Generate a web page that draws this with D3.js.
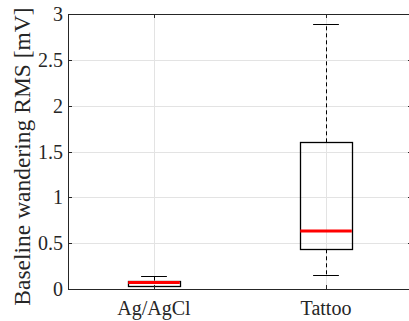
<!DOCTYPE html>
<html>
<head>
<meta charset="utf-8">
<script src="https://cdn.jsdelivr.net/npm/d3@7"></script>
<style>
  body { margin: 0; background: #fff; }
  svg { display: block; }
  text { font-family: "Liberation Serif", "Times New Roman", serif; fill: #262626; }
</style>
</head>
<body>
<div id="chart"></div>
<script>
// box plot stats (mV)
const categories = ["Ag/AgCl", "Tattoo"];
const whiskerLow = [0.035, 0.156];
const q1 = [0.042, 0.433];
const median = [0.072, 0.633];
const q3 = [0.092, 1.60];
const whiskerHigh = [0.139, 2.89];
const yTicks = [0, 0.5, 1, 1.5, 2, 2.5, 3];
const yLabel = "Baseline wandering RMS [mV]";

const width = 409, height = 321;
const margin = { left: 68, right: -3, top: 14, bottom: 32 };

const svg = d3.select('#chart').append('svg')
    .attr('width', width)
    .attr('height', height);

// numeric x like matlab: groups at 1 and 2, limits 0.5..2.5
const x = d3.scaleLinear()
    .domain([0.5, 2.5])
    .range([margin.left, width - margin.right]);
const y = d3.scaleLinear()
    .domain([0, 3])
    .range([height - margin.bottom, margin.top]);

const x0 = margin.left, x1 = width - margin.right;
const y0 = height - margin.bottom, y1 = margin.top;

// grid
const grid = svg.append('g').attr('stroke', '#e3e3e3').attr('stroke-width', 1);
grid.selectAll('line.gy')
    .data(yTicks)
    .join('line')
    .attr('x1', x0).attr('x2', x1)
    .attr('y1', d => Math.round(y(d)) + 0.5)
    .attr('y2', d => Math.round(y(d)) + 0.5);
grid.selectAll('line.gx')
    .data(categories)
    .join('line')
    .attr('x1', (d, i) => Math.round(x(i + 1)) + 0.5)
    .attr('x2', (d, i) => Math.round(x(i + 1)) + 0.5)
    .attr('y1', y0).attr('y2', y1);

// boxes
const boxW = 0.3, capW = 0.15;
const g = svg.append('g');
categories.forEach((c, i) => {
    const cx = Math.round(x(i + 1)) + 0.5;
    const bl = x(i + 1 - boxW / 2), br = x(i + 1 + boxW / 2);
    const cl = x(i + 1 - capW / 2), cr = x(i + 1 + capW / 2);

    // whiskers
    g.append('line')
        .attr('x1', cx).attr('x2', cx)
        .attr('y1', y(q3[i])).attr('y2', y(whiskerHigh[i]))
        .attr('stroke', '#000').attr('stroke-dasharray', '4,3');
    g.append('line')
        .attr('x1', cx).attr('x2', cx)
        .attr('y1', y(q1[i])).attr('y2', y(whiskerLow[i]))
        .attr('stroke', '#000').attr('stroke-dasharray', '4,3');
    // caps
    [whiskerHigh[i], whiskerLow[i]].forEach(v => {
        g.append('line')
            .attr('x1', cl).attr('x2', cr)
            .attr('y1', Math.round(y(v)) + 0.5).attr('y2', Math.round(y(v)) + 0.5)
            .attr('stroke', '#000');
    });
    // box
    g.append('rect')
        .attr('x', Math.round(bl) + 0.5)
        .attr('y', Math.round(y(q3[i])) + 0.5)
        .attr('width', Math.round(br - bl))
        .attr('height', Math.round(y(q1[i]) - y(q3[i])))
        .attr('fill', 'none')
        .attr('stroke', '#000')
        .attr('stroke-width', 1.3);
    // median
    g.append('line')
        .attr('x1', bl).attr('x2', br)
        .attr('y1', y(median[i])).attr('y2', y(median[i]))
        .attr('stroke', '#ff0000')
        .attr('stroke-width', 3);
});

// axes frame
const axisCol = '#262626';
svg.append('rect')
    .attr('x', x0 + 0.5).attr('y', y1 + 0.5)
    .attr('width', x1 - x0).attr('height', y0 - y1)
    .attr('fill', 'none').attr('stroke', axisCol).attr('stroke-width', 1);

// ticks inward on left and right, bottom and top
const tickLen = 4;
svg.append('g').selectAll('line')
    .data(yTicks)
    .join('line')
    .attr('x1', x0).attr('x2', x0 + tickLen)
    .attr('y1', d => Math.round(y(d)) + 0.5).attr('y2', d => Math.round(y(d)) + 0.5)
    .attr('stroke', axisCol);
svg.append('g').selectAll('line')
    .data(yTicks)
    .join('line')
    .attr('x1', x1).attr('x2', x1 - tickLen)
    .attr('y1', d => Math.round(y(d)) + 0.5).attr('y2', d => Math.round(y(d)) + 0.5)
    .attr('stroke', axisCol);
svg.append('g').selectAll('line')
    .data(categories)
    .join('line')
    .attr('x1', (d, i) => Math.round(x(i + 1)) + 0.5).attr('x2', (d, i) => Math.round(x(i + 1)) + 0.5)
    .attr('y1', y0).attr('y2', y0 - tickLen)
    .attr('stroke', axisCol);
svg.append('g').selectAll('line')
    .data(categories)
    .join('line')
    .attr('x1', (d, i) => Math.round(x(i + 1)) + 0.5).attr('x2', (d, i) => Math.round(x(i + 1)) + 0.5)
    .attr('y1', y1).attr('y2', y1 + tickLen)
    .attr('stroke', axisCol);

// tick labels
svg.append('g').selectAll('text')
    .data(yTicks)
    .join('text')
    .attr('x', x0 - 5)
    .attr('y', d => y(d))
    .attr('dy', '0.35em')
    .attr('text-anchor', 'end')
    .attr('font-size', '20px')
    .text(d => d);
svg.append('g').selectAll('text')
    .data(categories)
    .join('text')
    .attr('x', (d, i) => x(i + 1))
    .attr('y', y0 + 26)
    .attr('text-anchor', 'middle')
    .attr('font-size', '20px')
    .text(d => d);

// y label
svg.append('text')
    .attr('transform', `translate(30, ${(y0 + y1) / 2 + 5}) rotate(-90)`)
    .attr('text-anchor', 'middle')
    .attr('font-size', '23.5px')
    .text(yLabel);
</script>
</body>
</html>
